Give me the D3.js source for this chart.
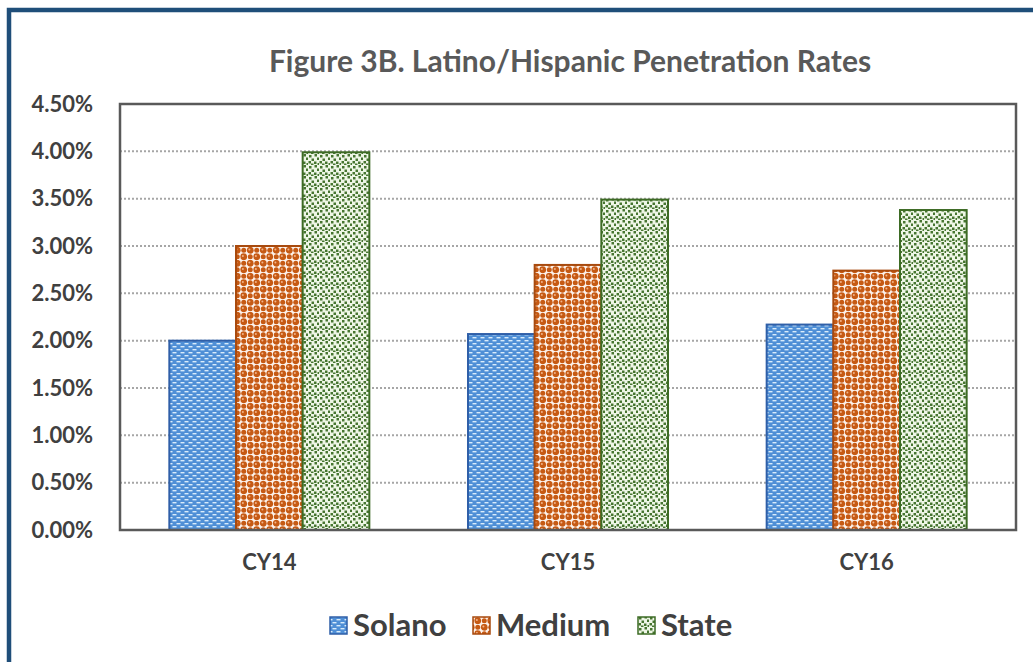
<!DOCTYPE html>
<html><head><meta charset="utf-8">
<script src="https://cdn.jsdelivr.net/npm/d3@7/dist/d3.min.js"></script>
<style>body{margin:0;background:#fff;}svg{display:block;}</style>
</head><body>
<script>
const categories = ["CY14", "CY15", "CY16"];
const seriesNames = ["Solano", "Medium", "State"];
const solano = [0.0200, 0.0207, 0.0217];
const medium = [0.0300, 0.0280, 0.0274];
const state = [0.0399, 0.0349, 0.0338];
const yTicks = [0, 0.005, 0.01, 0.015, 0.02, 0.025, 0.03, 0.035, 0.04, 0.045];
const title = "Figure 3B. Latino/Hispanic Penetration Rates";

const W = 1033, H = 662;
const svg = d3.select("body").append("svg").attr("width", W).attr("height", H);
const defs = svg.append("defs");

// Patterns
const pS = defs.append("pattern").attr("id", "pSolano").attr("patternUnits", "userSpaceOnUse").attr("width", 8).attr("height", 6);
pS.append("rect").attr("width", 8).attr("height", 6).attr("fill", "#4f8fd6");
pS.append("rect").attr("x", 0.5).attr("y", 1).attr("width", 4).attr("height", 1.4).attr("fill", "#d9ecfb");
pS.append("rect").attr("x", 4.5).attr("y", 4).attr("width", 4).attr("height", 1.4).attr("fill", "#d9ecfb");
pS.append("rect").attr("x", -3.5).attr("y", 4).attr("width", 4).attr("height", 1.4).attr("fill", "#d9ecfb");

const pM = defs.append("pattern").attr("id", "pMedium").attr("patternUnits", "userSpaceOnUse").attr("width", 13).attr("height", 13);
pM.append("rect").attr("width", 13).attr("height", 13).attr("fill", "#fdf3ec");
[[3.25,3.25],[9.75,9.75],[9.75,3.25],[3.25,9.75]].forEach(([cx,cy],i) => {
  pM.append("circle").attr("cx", cx).attr("cy", cy).attr("r", i < 2 ? 3.4 : 2.5).attr("fill", "#c65a14");
});
pM.append("circle").attr("cx", 2.4).attr("cy", 2.4).attr("r", 1).attr("fill", "#f2b48a");
pM.append("circle").attr("cx", 8.9).attr("cy", 8.9).attr("r", 1).attr("fill", "#f2b48a");

const pT = defs.append("pattern").attr("id", "pState").attr("patternUnits", "userSpaceOnUse").attr("width", 11).attr("height", 11);
pT.append("rect").attr("width", 11).attr("height", 11).attr("fill", "#eef6e6");
[[1,1],[6.5,0],[3.5,4.5],[9,3.5],[0.5,7],[6,7.5],[9.5,9],[3,9.5]].forEach(([x,y]) => {
  pT.append("rect").attr("x", x).attr("y", y).attr("width", 2.5).attr("height", 2.5).attr("fill", "#467530");
});

// outer frame
svg.append("rect").attr("x", 9).attr("y", 10).attr("width", W + 20).attr("height", H + 20)
  .attr("fill", "none").attr("stroke", "#1f4e79").attr("stroke-width", 4.5);

const m = {left: 120, top: 104, right: 1016, bottom: 530};
const x0 = d3.scaleBand().domain(categories).range([m.left, m.right]).paddingInner(0).paddingOuter(0);
const x1 = d3.scaleBand().domain(seriesNames).range([0, x0.bandwidth()]).paddingInner(0).paddingOuter(0.74);
const y = d3.scaleLinear().domain([0, 0.045]).range([m.bottom, m.top]);

// gridlines
svg.append("g").selectAll("line").data(yTicks.filter(t => t > 0 && t < 0.045)).join("line")
  .attr("x1", m.left).attr("x2", m.right).attr("y1", d => y(d)).attr("y2", d => y(d))
  .attr("stroke", "#a6a6a6").attr("stroke-width", 2).attr("stroke-dasharray", "2,2");

// bars
const series = [
  {name: "Solano", values: solano, fill: "url(#pSolano)", stroke: "#2f5fa8"},
  {name: "Medium", values: medium, fill: "url(#pMedium)", stroke: "#a84a0e"},
  {name: "State", values: state, fill: "url(#pState)", stroke: "#3d6b24"}
];
const g = svg.append("g");
series.forEach(s => {
  g.selectAll(null).data(categories).join("rect")
    .attr("x", (c) => x0(c) + x1(s.name))
    .attr("y", (c, i) => y(s.values[i]))
    .attr("width", x1.bandwidth())
    .attr("height", (c, i) => y(0) - y(s.values[i]))
    .attr("fill", s.fill).attr("stroke", s.stroke).attr("stroke-width", 2);
});

// plot border
svg.append("rect").attr("x", m.left).attr("y", m.top).attr("width", m.right - m.left).attr("height", m.bottom - m.top)
  .attr("fill", "none").attr("stroke", "#595959").attr("stroke-width", 2.5);

const font = "Lato, 'Open Sans', sans-serif";
// y axis
const yAxis = d3.axisLeft(y).tickValues(yTicks).tickFormat(d3.format(".2%")).tickSize(0).tickPadding(27);
const ya = svg.append("g").attr("transform", `translate(${m.left},0)`).call(yAxis);
ya.select(".domain").remove();
ya.selectAll("text").attr("font-family", font).attr("font-weight", "bold").attr("font-size", 22).attr("fill", "#404040");

// x axis
const xAxis = d3.axisBottom(x0).tickSize(0).tickPadding(24);
const xa = svg.append("g").attr("transform", `translate(0,${m.bottom})`).call(xAxis);
xa.select(".domain").remove();
xa.selectAll("text").attr("font-family", font).attr("font-weight", "bold").attr("font-size", 22).attr("fill", "#404040");

// title
svg.append("text").attr("x", 570).attr("y", 72).attr("text-anchor", "middle")
  .attr("font-family", font).attr("font-weight", "bold").attr("font-size", 30).attr("fill", "#595959").text(title);

// legend
const legX = [330, 473, 638];
const leg = svg.append("g");
series.forEach((s, i) => {
  leg.append("rect").attr("x", legX[i]).attr("y", 617).attr("width", 17).attr("height", 17)
    .attr("fill", s.fill).attr("stroke", s.stroke).attr("stroke-width", 1.5);
  leg.append("text").attr("x", legX[i] + 23).attr("y", 636)
    .attr("font-family", font).attr("font-weight", "bold").attr("font-size", 31).attr("fill", "#404040").text(s.name);
});
</script>
</body></html>
